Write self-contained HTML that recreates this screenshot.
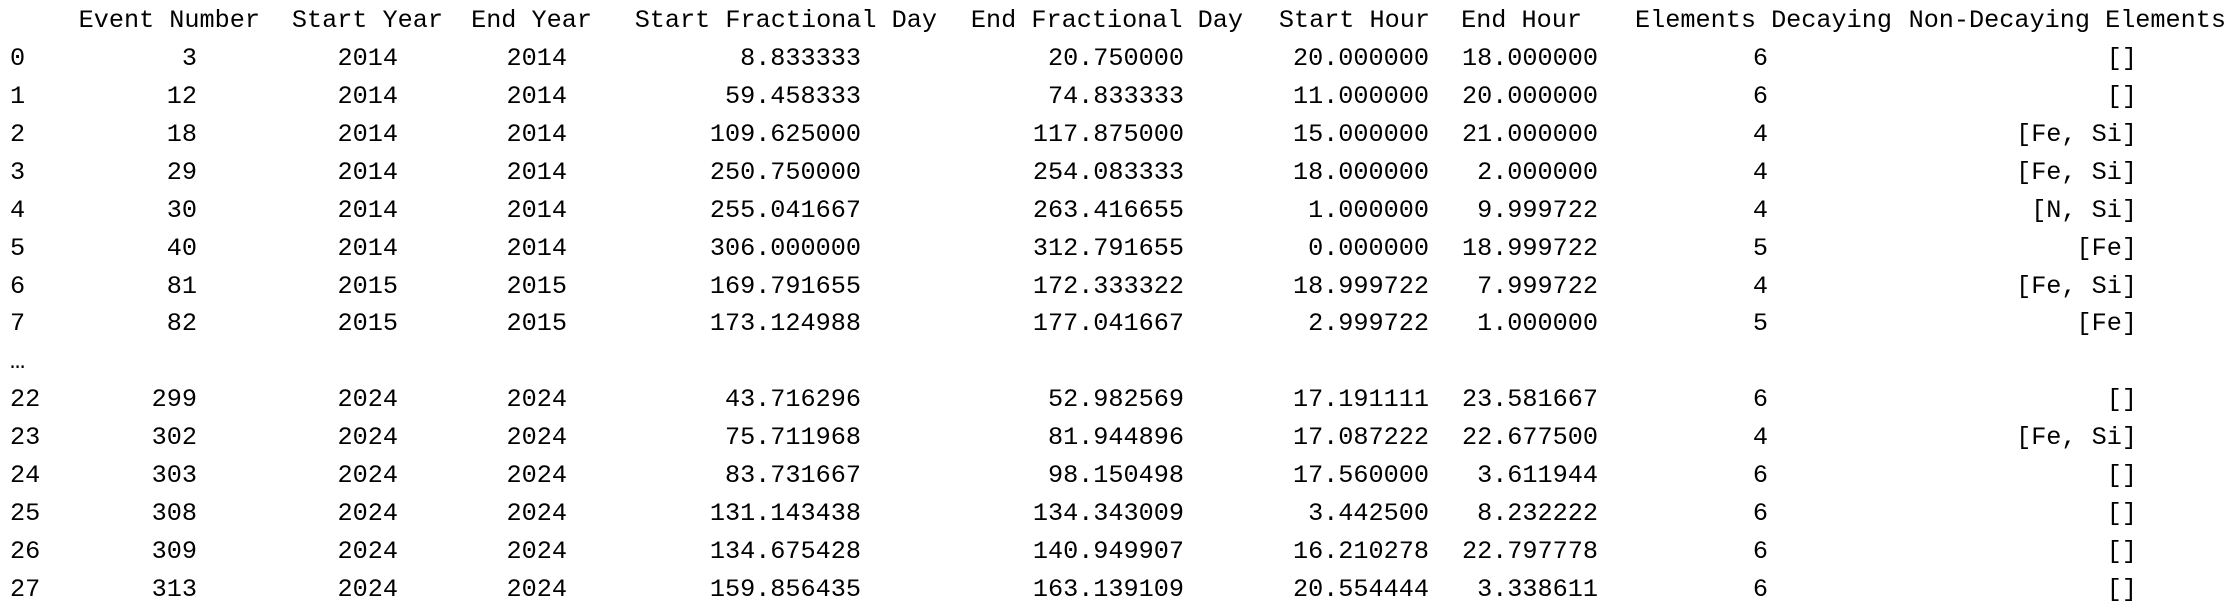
<!DOCTYPE html>
<html><head><meta charset="utf-8">
<style>
html,body{margin:0;padding:0;background:#fff;width:2234px;height:613px;overflow:hidden;position:relative}
.row{position:absolute;left:0;width:2234px;height:38px;font-family:"Liberation Mono","DejaVu Sans Mono",monospace;font-size:25.2px;line-height:38px;color:#000;white-space:pre}
.c{position:absolute;top:0}
</style></head>
<body>
<div id="tbl"></div>
<script>
const headers=["","Event Number","Start Year","End Year","Start Fractional Day","End Fractional Day","Start Hour","End Hour","Elements Decaying","Non-Decaying Elements"];
const headerRight=[0,260,443,592,937,1243,1430,1582,1892,2226];
const valueRight=[0,197,398,567,861,1184,1429,1598,1768,2137];
const rows=[
["0","3","2014","2014","8.833333","20.750000","20.000000","18.000000","6","[]"],
["1","12","2014","2014","59.458333","74.833333","11.000000","20.000000","6","[]"],
["2","18","2014","2014","109.625000","117.875000","15.000000","21.000000","4","[Fe, Si]"],
["3","29","2014","2014","250.750000","254.083333","18.000000","2.000000","4","[Fe, Si]"],
["4","30","2014","2014","255.041667","263.416655","1.000000","9.999722","4","[N, Si]"],
["5","40","2014","2014","306.000000","312.791655","0.000000","18.999722","5","[Fe]"],
["6","81","2015","2015","169.791655","172.333322","18.999722","7.999722","4","[Fe, Si]"],
["7","82","2015","2015","173.124988","177.041667","2.999722","1.000000","5","[Fe]"],
null,
["22","299","2024","2024","43.716296","52.982569","17.191111","23.581667","6","[]"],
["23","302","2024","2024","75.711968","81.944896","17.087222","22.677500","4","[Fe, Si]"],
["24","303","2024","2024","83.731667","98.150498","17.560000","3.611944","6","[]"],
["25","308","2024","2024","131.143438","134.343009","3.442500","8.232222","6","[]"],
["26","309","2024","2024","134.675428","140.949907","16.210278","22.797778","6","[]"],
["27","313","2024","2024","159.856435","163.139109","20.554444","3.338611","6","[]"]
];
const tbl=document.getElementById('tbl');
const lh=37.93, top0=2;
function addRow(cells,rights,idx,name){
  const d=document.createElement('div');
  d.className='row';
  d.style.top=(top0+idx*lh)+'px';
  
  
  cells.forEach((v,i)=>{
    const s=document.createElement('span');
    s.className='c';
    s.textContent=v;
    if(i===0){s.style.left='10px';}else{s.style.right=(2234-rights[i])+'px';}
    
    
    d.appendChild(s);
  });
  tbl.appendChild(d);
}
addRow(headers,headerRight,0,'header-row');
rows.forEach((r,k)=>{
  if(r===null){addRow(['…'],valueRight,k+1,'ellipsis-row');return;}
  addRow(r,valueRight,k+1,'row-'+r[0]);
});
</script>
</body></html>
